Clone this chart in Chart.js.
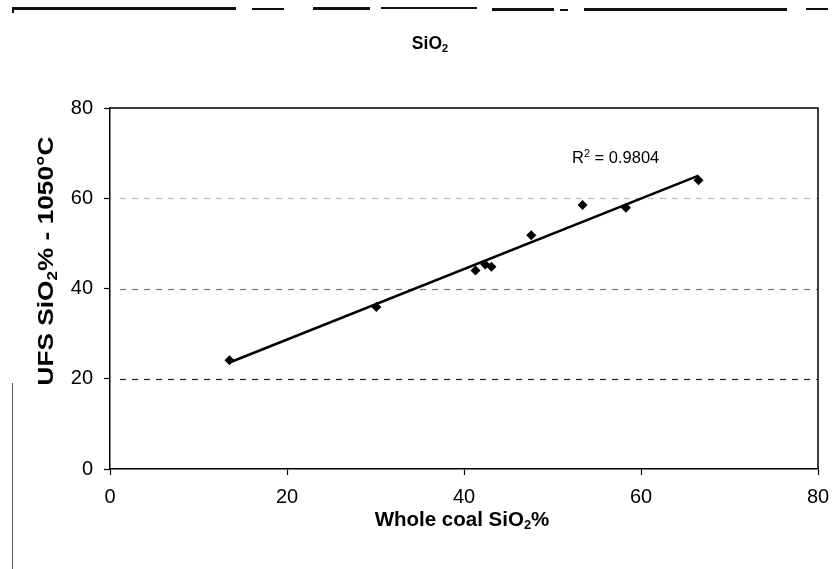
<!DOCTYPE html>
<html>
<head>
    <title>SiO2 - UFS vs whole coal</title>
    <script src="https://cdn.jsdelivr.net/npm/chart.js"></script>
    <style>
        body { margin: 0; background: #fff; }
        .page { position: relative; width: 840px; height: 569px; }
        .scan { position: absolute; background: #111; }
    </style>
</head>
<body>
<div class="page">
    <canvas id="sio2Chart" width="840" height="569"></canvas>
    <!-- scanned page edge marks -->
    <div class="scan" style="left:12px;top:7px;width:224px;height:3px"></div>
    <div class="scan" style="left:12px;top:7px;width:2px;height:6px"></div>
    <div class="scan" style="left:252px;top:8px;width:32px;height:2px"></div>
    <div class="scan" style="left:313px;top:7px;width:57px;height:3px"></div>
    <div class="scan" style="left:381px;top:7px;width:96px;height:2px"></div>
    <div class="scan" style="left:492px;top:8px;width:62px;height:3px"></div>
    <div class="scan" style="left:560px;top:9px;width:8px;height:2px"></div>
    <div class="scan" style="left:584px;top:8px;width:203px;height:3px"></div>
    <div class="scan" style="left:806px;top:8px;width:22px;height:2px"></div>
    <div class="scan" style="left:12px;top:383px;width:1px;height:186px;background:#555"></div>
</div>
<script>
    // values
    const wholeCoal = [13.5, 30.1, 41.3, 42.4, 43.1, 47.6, 53.4, 58.3, 66.5];
    const ufsSiO2 = [24.1, 35.9, 44.0, 45.3, 44.8, 51.8, 58.5, 57.9, 64.0];
    const trendX = [13.5, 66.5];
    const trendY = [23.6, 65.0];
    const gridLevels = [20, 40, 60];
    const gridShades = ['#222', '#777', '#bbb'];
    const rSquared = '0.9804';
    const rLabelAt = [52.2, 68.8];

    const FONT = '"Liberation Sans", Arial, sans-serif';

    // draws text runs with sub/superscripts, centred on x (or left aligned)
    function drawRich(ctx, parts, x, y, size, weight, align) {
        const small = Math.round(size * 0.65);
        let total = 0;
        parts.forEach(p => {
            ctx.font = weight + ' ' + (p.sub || p.sup ? small : size) + 'px ' + FONT;
            p.w = ctx.measureText(p.t).width;
            total += p.w;
        });
        let cx = align === 'left' ? x : x - total / 2;
        ctx.textAlign = 'left';
        ctx.textBaseline = 'middle';
        parts.forEach(p => {
            ctx.font = weight + ' ' + (p.sub || p.sup ? small : size) + 'px ' + FONT;
            let dy = 0;
            if (p.sub) dy = size * 0.28;
            if (p.sup) dy = -size * 0.3;
            ctx.fillText(p.t, cx, y + dy);
            cx += p.w;
        });
    }

    const decorations = {
        id: 'decorations',
        beforeDatasetsDraw(chart) {
            const ctx = chart.ctx;
            const area = chart.chartArea;
            const yScale = chart.scales.y;
            ctx.save();
            ctx.lineWidth = 1.2;
            ctx.setLineDash([6, 6]);
            gridLevels.forEach((v, i) => {
                const py = Math.round(yScale.getPixelForValue(v)) + 0.5;
                ctx.strokeStyle = gridShades[i];
                ctx.beginPath();
                ctx.moveTo(area.left + 10, py);
                ctx.lineTo(area.right, py);
                ctx.stroke();
            });
            ctx.restore();
        },
        afterDraw(chart) {
            const ctx = chart.ctx;
            const area = chart.chartArea;
            const xs = chart.scales.x, ys = chart.scales.y;
            ctx.save();
            // frame top and right
            ctx.strokeStyle = '#000';
            ctx.lineWidth = 1.5;
            ctx.beginPath();
            ctx.moveTo(area.left, area.top);
            ctx.lineTo(area.right, area.top);
            ctx.lineTo(area.right, area.bottom);
            ctx.stroke();

            ctx.fillStyle = '#000';
            drawRich(ctx, [{t: 'SiO'}, {t: '2', sub: true}], 430, 44, 17.5, 'bold');
            drawRich(ctx, [{t: 'Whole coal SiO'}, {t: '2', sub: true}, {t: '%'}], 462, 520, 20.5, 'bold');

            ctx.save();
            ctx.translate(47, 261);
            ctx.rotate(-Math.PI / 2);
            ctx.scale(1.22, 1);
            drawRich(ctx, [{t: 'UFS SiO'}, {t: '2', sub: true}, {t: '% - 1050°C'}], 0, 0, 21.5, 'bold');
            ctx.restore();

            drawRich(ctx, [{t: 'R'}, {t: '2', sup: true}, {t: ' = ' + rSquared}],
                xs.getPixelForValue(rLabelAt[0]), ys.getPixelForValue(rLabelAt[1]), 16.5, 'normal', 'left');
            ctx.restore();
        }
    };

    const ctx = document.getElementById('sio2Chart').getContext('2d');
    new Chart(ctx, {
        type: 'scatter',
        data: {
            datasets: [{
                label: 'Samples',
                data: wholeCoal.map((x, i) => ({x: x, y: ufsSiO2[i]})),
                pointStyle: 'rectRot',
                pointRadius: 5,
                backgroundColor: '#000',
                borderColor: '#000',
                borderWidth: 0
            }, {
                type: 'line',
                label: 'Linear trend',
                data: trendX.map((x, i) => ({x: x, y: trendY[i]})),
                borderColor: '#000',
                borderWidth: 2.5,
                pointRadius: 0,
                fill: false
            }]
        },
        options: {
            responsive: false,
            animation: false,
            layout: { padding: { top: 108, right: 22, bottom: 0, left: 0 } },
            plugins: {
                legend: { display: false },
                tooltip: { enabled: false }
            },
            scales: {
                x: {
                    type: 'linear',
                    min: 0, max: 80,
                    ticks: { stepSize: 20, color: '#000', padding: 10, font: { family: FONT, size: 20 } },
                    grid: { drawOnChartArea: false, tickLength: 6, color: '#000', tickWidth: 1.2 },
                    border: { display: true, color: '#000', width: 1.5 },
                    afterFit(scale) { scale.height = 100; }
                },
                y: {
                    min: 0, max: 80,
                    ticks: { stepSize: 20, color: '#000', padding: 11, font: { family: FONT, size: 20 } },
                    grid: { drawOnChartArea: false, tickLength: 6, color: '#000', tickWidth: 1.2 },
                    border: { display: true, color: '#000', width: 1.5 },
                    afterFit(scale) { scale.width = 110; }
                }
            }
        },
        plugins: [decorations]
    });
</script>
</body>
</html>
